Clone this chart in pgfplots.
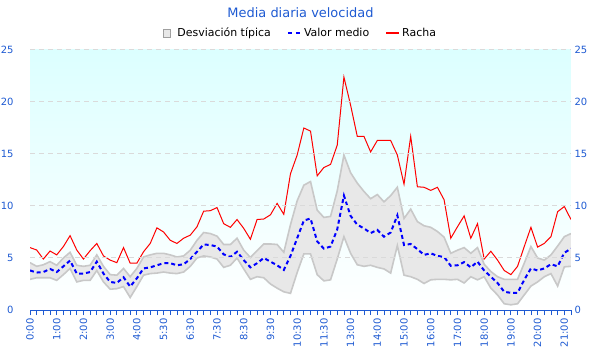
\documentclass[border=0pt]{standalone}
\usepackage{fontspec}
\setmainfont{DejaVu Sans}
\usepackage{pgfplots}
\pgfplotsset{compat=1.18}
\usepackage{pgfplotstable}
\usepgfplotslibrary{fillbetween}
\definecolor{tickblue}{RGB}{30,90,210}
\definecolor{titleblue}{RGB}{30,90,210}
\definecolor{bandfill}{RGB}{232,232,232}
\definecolor{bandline}{RGB}{200,200,200}
\definecolor{gridgray}{RGB}{218,218,218}
\definecolor{bgtop}{RGB}{220,255,255}
\pgfplotsset{
  blueleg/.style={legend image code/.code={\draw[blue, line width=2.2bp, dash pattern=on 4bp off 4bp] (0bp,0bp) -- (13bp,0bp);}},
  redleg/.style={legend image code/.code={\draw[red, line width=2bp] (0bp,0bp) -- (13bp,0bp);}},
  boxleg/.style={legend image code/.code={\draw[fill=bandfill, draw=gray!75, line width=0.8bp] (0bp,-4bp) rectangle (7bp,4bp); \path (0bp,0bp) -- (12bp,0bp);}},
}

\pgfplotstableread{
i red mean up lo
0 6.0 3.8 4.55 2.95
1 5.77 3.6 4.2 3.1
2 4.9 3.65 4.35 3.1
3 5.67 3.95 4.65 3.1
4 5.3 3.65 4.3 2.85
5 6.1 4.2 5.0 3.4
6 7.15 4.75 5.55 4.0
7 5.77 3.5 4.3 2.7
8 4.9 3.5 4.2 2.85
9 5.7 3.65 4.3 2.85
10 6.4 4.65 5.3 3.8
11 5.2 3.5 4.2 2.7
12 4.8 2.7 3.4 2.0
13 4.55 2.6 3.35 2.05
14 6.0 3.15 4.0 2.25
15 4.5 2.25 3.2 1.2
16 4.5 3.05 4.0 2.25
17 5.6 4.0 5.1 3.35
18 6.4 4.1 5.3 3.5
19 7.9 4.3 5.45 3.55
20 7.5 4.5 5.45 3.65
21 6.7 4.5 5.3 3.55
22 6.4 4.3 5.1 3.5
23 6.9 4.4 5.2 3.65
24 7.2 4.9 5.75 4.2
25 8.0 5.6 6.7 5.0
26 9.5 6.3 7.45 5.2
27 9.55 6.25 7.35 5.1
28 9.85 6.1 7.1 4.9
29 8.3 5.35 6.3 4.1
30 7.95 5.1 6.3 4.3
31 8.7 5.6 6.9 5.0
32 7.85 4.8 5.75 3.95
33 6.8 4.1 5.05 2.95
34 8.7 4.5 5.7 3.2
35 8.75 5.0 6.35 3.1
36 9.15 4.65 6.35 2.5
37 10.25 4.3 6.3 2.1
38 9.2 3.85 5.55 1.75
39 13.1 5.2 8.2 1.6
40 14.9 6.9 10.5 3.6
41 17.5 8.6 12.0 5.4
42 17.2 8.8 12.35 5.4
43 12.9 6.6 9.6 3.4
44 13.7 5.9 8.9 2.8
45 14.0 6.1 9.0 2.9
46 15.85 7.75 11.45 4.9
47 22.4 11.0 14.9 7.05
48 19.7 9.05 13.2 5.45
49 16.7 8.2 12.2 4.35
50 16.7 7.85 11.4 4.2
51 15.2 7.4 10.7 4.3
52 16.3 7.7 11.1 4.1
53 16.3 7.05 10.4 3.95
54 16.3 7.45 11.0 3.55
55 14.9 9.1 11.8 6.2
56 12.1 6.25 8.8 3.35
57 16.7 6.35 9.7 3.2
58 11.85 5.85 8.5 2.95
59 11.8 5.3 8.1 2.55
60 11.5 5.45 7.95 2.9
61 11.8 5.2 7.55 2.95
62 10.6 5.1 7.0 2.95
63 6.9 4.25 5.45 2.9
64 8.0 4.3 5.75 2.95
65 9.05 4.6 6.0 2.6
66 6.9 4.1 5.45 3.2
67 8.3 4.65 6.0 2.9
68 4.9 3.8 4.4 3.2
69 5.65 3.2 3.7 2.1
70 4.8 2.6 3.2 1.45
71 3.8 1.75 2.95 0.6
72 3.4 1.65 2.95 0.5
73 4.2 1.65 2.95 0.6
74 6.1 2.9 4.5 1.45
75 7.95 4.0 6.1 2.3
76 6.05 3.8 5.0 2.7
77 6.4 4.0 4.8 3.2
78 7.05 4.4 5.3 3.5
79 9.45 4.2 6.15 2.3
80 9.95 5.5 7.05 4.15
81 8.7 5.9 7.35 4.2
}\data

\begin{document}
\begin{tikzpicture}
\begin{axis}[
  scale only axis, width=541bp, height=260bp,
  xmin=0, xmax=81, ymin=0, ymax=25,
  axis x line*=bottom, axis y line*=left,
  x axis line style={tickblue, line width=1bp},
  y axis line style={draw=none},
  xtick={0,4,...,80},
  xticklabels={0:00,1:00,2:00,3:00,4:00,5:30,6:30,7:30,8:30,9:30,10:30,11:30,13:00,14:00,15:00,16:00,17:00,18:00,19:00,20:00,21:00},
  minor xtick={0,...,81},
  xtick style={tickblue, line width=0.8bp},
  minor x tick style={tickblue, line width=0.8bp},
  tick align=outside, major tick length=5bp, minor tick length=5bp,
  xticklabel style={rotate=90, anchor=east, font=\fontsize{10}{12}\selectfont, text=tickblue},
  ytick={0,5,...,25},
  ytick style={draw=none},
  yticklabel style={text=tickblue, font=\fontsize{10}{12}\selectfont, xshift=-8bp},
  ymajorgrids,
  y grid style={gridgray, dash pattern=on 5bp off 4bp, line width=1bp},
  /pgf/number format/assume math mode=true,
  axis background/.style={top color=bgtop, bottom color=white},
  axis on top,
  title={Media diaria velocidad},
  title style={font=\fontsize{13}{15}\selectfont, text=titleblue, at={(0.5,1)}, anchor=center, yshift=31bp},
  legend style={at={(0.5,1)}, anchor=center, yshift=17bp, draw=none, fill=none,
    font=\fontsize{11}{13}\selectfont, legend columns=-1,
    /tikz/every even column/.append style={column sep=14bp}},
  legend cell align=left,
]
\addplot[name path=up, draw=bandline, line width=1.6bp, forget plot] table[x=i, y=up]{\data};
\addplot[name path=lo, draw=bandline, line width=1.6bp, forget plot] table[x=i, y=lo]{\data};
\addplot[fill=bandfill, draw=none, boxleg] fill between[of=up and lo];
\addlegendentry{Desviación típica}
\addplot[blue, line width=2bp, dash pattern=on 4bp off 3bp, blueleg]
  table[x=i, y=mean]{\data};
\addlegendentry{Valor medio}
\addplot[red, line width=1bp, redleg]
  table[x=i, y=red]{\data};
\addlegendentry{Racha}
\end{axis}
\begin{axis}[
  scale only axis, width=541bp, height=260bp,
  xmin=0, xmax=81, ymin=0, ymax=25,
  hide x axis, axis y line*=right,
  y axis line style={draw=none},
  ytick={0,5,...,25}, ytick style={draw=none},
  yticklabel style={text=tickblue, font=\fontsize{10}{12}\selectfont},
  /pgf/number format/assume math mode=true,
]
\addplot[draw=none, forget plot] coordinates {(0,0) (81,25)};
\end{axis}
\pgfresetboundingbox
\path (-30bp,-50bp) rectangle (570bp,310bp);
\end{tikzpicture}
\end{document}
